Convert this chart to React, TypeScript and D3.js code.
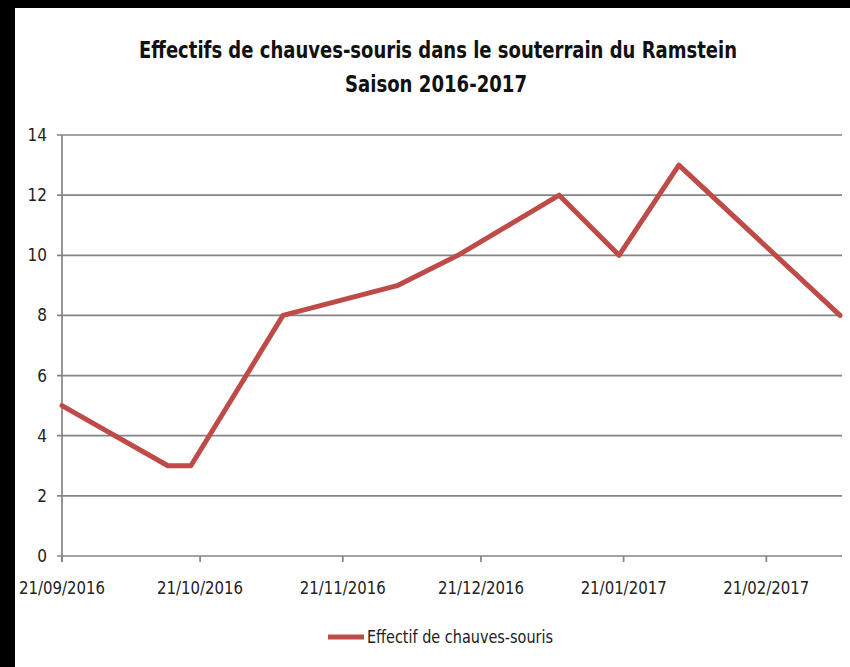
import React from "react";
import * as d3 from "d3";

const dates = [
  "2016-09-21", "2016-10-14", "2016-10-19", "2016-11-08", "2016-12-03",
  "2016-12-16", "2017-01-07", "2017-01-20", "2017-02-02", "2017-03-09",
];
const values = [5, 3, 3, 8, 9, 10, 12, 10, 13, 8];
const tickDates = ["2016-09-21", "2016-10-21", "2016-11-21", "2016-12-21", "2017-01-21", "2017-02-21"];
const yTicks = [0, 2, 4, 6, 8, 10, 12, 14];
const titleLines = ["Effectifs de chauves-souris dans le souterrain du Ramstein", "Saison 2016-2017"];
const seriesName = "Effectif de chauves-souris";

const parse = d3.timeParse("%Y-%m-%d");
const fmt = d3.timeFormat("%d/%m/%Y");

const W = 850, H = 667;
const left = 62, right = 840, top = 135, bottom = 556;
const FONT = "'Liberation Sans Narrow', 'DejaVu Sans Condensed', 'Open Sans', sans-serif";
const RED = "#BE4B48";
const GRID = "#848484";

export default function App() {
  const pts = dates.map((d, i) => ({ date: parse(d) as Date, v: values[i] }));
  const x = d3.scaleTime()
    .domain([parse(dates[0]) as Date, parse(dates[dates.length - 1]) as Date])
    .range([left, right]);
  const y = d3.scaleLinear().domain([0, 14]).range([bottom, top]);
  const line = d3.line<{ date: Date; v: number }>()
    .x((d) => x(d.date))
    .y((d) => y(d.v));

  return (
    <svg width={W} height={H} style={{ position: "absolute", left: 0, top: 0, background: "#fff" }}>
      <rect x={0} y={0} width={W} height={H} fill="#fff" />
      <rect x={0} y={0} width={W} height={8} fill="#000" />
      <rect x={0} y={0} width={15} height={H} fill="#000" />

      <text x={438} y={58} textAnchor="middle" fontFamily={FONT} fontWeight="bold" fontSize={23}
        fill="#111" textLength={598} lengthAdjust="spacingAndGlyphs">{titleLines[0]}</text>
      <text x={436} y={92} textAnchor="middle" fontFamily={FONT} fontWeight="bold" fontSize={23}
        fill="#111" textLength={182} lengthAdjust="spacingAndGlyphs">{titleLines[1]}</text>

      {yTicks.map((t) => (
        <g key={t}>
          <line x1={left - 5} x2={right + 2} y1={y(t)} y2={y(t)}
            stroke={GRID} strokeWidth={1.7} />
          <text x={47} y={y(t)} dy="0.35em" textAnchor="end" fontFamily={FONT} fontSize={17} fill="#222">{t}</text>
        </g>
      ))}
      <line x1={left} x2={left} y1={top} y2={bottom + 5} stroke={GRID} strokeWidth={1.7} />

      {tickDates.map((d) => {
        const dt = parse(d) as Date;
        const xx = x(dt);
        return (
          <g key={d}>
            <line x1={xx} x2={xx} y1={bottom} y2={bottom + 6} stroke={GRID} strokeWidth={1.7} />
            <text x={xx} y={594} textAnchor="middle" fontFamily={FONT} fontSize={17.5} fill="#222"
              textLength={86} lengthAdjust="spacingAndGlyphs">{fmt(dt)}</text>
          </g>
        );
      })}

      <path d={line(pts) || ""} fill="none" stroke={RED} strokeWidth={5} strokeLinejoin="round" strokeLinecap="round" />

      <line x1={328} x2={364} y1={637} y2={637} stroke={RED} strokeWidth={5} />
      <text x={367} y={637} dy="0.35em" fontFamily={FONT} fontSize={17.5} fill="#222"
        textLength={186} lengthAdjust="spacingAndGlyphs">{seriesName}</text>
    </svg>
  );
}
